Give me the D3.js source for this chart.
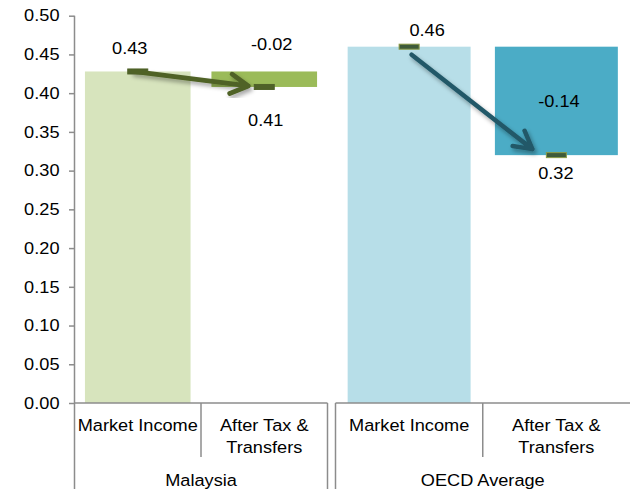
<!DOCTYPE html>
<html>
<head>
<meta charset="utf-8">
<script src="https://cdn.jsdelivr.net/npm/d3@7"></script>
<style>
  html, body { margin: 0; padding: 0; background: #fff; }
  svg { display: block; }
  text { font-family: "Liberation Sans", Arial, sans-serif; fill: #000; }
</style>
</head>
<body>
<svg id="chart" width="630" height="489"></svg>
<script>
// ---------- data ----------
const groups = ["Malaysia", "OECD Average"];
const categories = ["Market Income", "After Tax & Transfers"];
const categoryLabelLines = [["Market Income"], ["After Tax &", "Transfers"]];
const marketIncome = [0.428, 0.460];
const afterTaxTransfers = [0.408, 0.320];
const yTickValues = [0.00, 0.05, 0.10, 0.15, 0.20, 0.25, 0.30, 0.35, 0.40, 0.45, 0.50];

// ---------- styles ----------
const barColors = [
  { market: "#d7e4bd", after: "#9bbb59", arrow: "#4f6228", marker: "#4f6228", markerStroke: "#4f6228" },
  { market: "#b7dee8", after: "#4bacc6", arrow: "#215968", marker: "#3e5a3a", markerStroke: "#8a9a45" }
];
const axisColor = "#8c8c8c";
const fmt = v => d3.format(".2f")(v).replace("\u2212", "-");
const SX = 1.07;

const svg = d3.select("#chart");
const defs = svg.append("defs");
const f = defs.append("filter").attr("id", "shadow")
  .attr("x", "-20%").attr("y", "-20%").attr("width", "140%").attr("height", "140%");
f.append("feDropShadow").attr("dx", 2).attr("dy", 3).attr("stdDeviation", 2)
  .attr("flood-color", "#000").attr("flood-opacity", 0.35);

// ---------- scales ----------
const y = d3.scaleLinear().domain([0, 0.5]).range([403, 15.7]);
const groupRanges = [[74.5, 327.5], [335.5, 630]];
const xScales = groupRanges.map(r =>
  d3.scaleBand().domain(categories).range(r).paddingInner(0.165).paddingOuter(0.0825));

function txt(g, x, yy, s, anchor, size) {
  return g.append("text")
    .attr("transform", `translate(${x},${yy}) scale(${SX},1)`)
    .attr("text-anchor", anchor || "middle")
    .attr("dominant-baseline", "central")
    .style("font-size", (size || 17) + "px")
    .text(s);
}

// ---------- y axis ----------
const yAxisG = svg.append("g").attr("transform", "translate(74.5,0)");
yAxisG.call(d3.axisLeft(y).tickValues(yTickValues).tickFormat(() => "").tickSize(5.5).tickSizeOuter(0));
yAxisG.select(".domain").remove();
yAxisG.selectAll(".tick line").attr("stroke", axisColor).attr("stroke-width", 1.5);
yAxisG.append("line").attr("x1", 0).attr("x2", 0).attr("y1", y(0.5)).attr("y2", 489)
  .attr("stroke", axisColor).attr("stroke-width", 1.5);
yTickValues.forEach(v => txt(svg, 59.5, y(v), fmt(v), "end", 17));

// ---------- bars ----------
groups.forEach((gname, gi) => {
  const x = xScales[gi];
  const c = barColors[gi];
  const m = marketIncome[gi], a = afterTaxTransfers[gi];
  svg.append("rect")
    .attr("x", x(categories[0])).attr("width", x.bandwidth())
    .attr("y", y(m)).attr("height", y(0) - y(m))
    .attr("fill", c.market);
  svg.append("rect")
    .attr("x", x(categories[1])).attr("width", x.bandwidth())
    .attr("y", y(Math.max(m, a))).attr("height", Math.abs(y(a) - y(m)))
    .attr("fill", c.after);
});

// ---------- category axes ----------
const axG = svg.append("g").attr("stroke", axisColor).attr("stroke-width", 1.5).attr("fill", "none");
groups.forEach((gname, gi) => {
  const x = xScales[gi];
  const [r0, r1] = x.range();
  axG.append("line").attr("x1", r0).attr("x2", r1).attr("y1", y(0)).attr("y2", y(0));
  if (gi === 0) {
    axG.append("line").attr("x1", r1).attr("x2", r1).attr("y1", y(0)).attr("y2", 489);
  } else {
    axG.append("line").attr("x1", r0).attr("x2", r0).attr("y1", y(0)).attr("y2", 489);
  }
  const div = x(categories[1]) - x.step() * x.paddingInner() / 2;
  axG.append("line").attr("x1", div).attr("x2", div).attr("y1", y(0)).attr("y2", 457);

  categories.forEach((cat, ci) => {
    const cx = x(cat) + x.bandwidth() / 2;
    categoryLabelLines[ci].forEach((line, li) => txt(svg, cx, 425 + li * 22, line, "middle", 17));
  });
  txt(svg, (r0 + r1) / 2, 480, gname, "middle", 17);
});

// ---------- arrows, markers, labels ----------
const arrowLayout = [
  { s: [-5, 0], e: [-16, -1], w: 4.8 },
  { s: [2.5, 8], e: [-24, -6], w: 4.5 }
];
const labelLayout = [
  { market: [-8, -23], change: [7.5, -27], after: [1.5, 33] },
  { market: [18, -16], change: [2.5, null], after: [-0.5, 18] }
];
groups.forEach((gname, gi) => {
  const x = xScales[gi];
  const c = barColors[gi];
  const m = marketIncome[gi], a = afterTaxTransfers[gi];
  const c0 = x(categories[0]) + x.bandwidth() / 2;
  const c1 = x(categories[1]) + x.bandwidth() / 2;

  // markers
  [[c0, m], [c1, a]].forEach(([cx, v]) => {
    svg.append("rect").attr("x", cx - 10).attr("y", y(v) - 2.5)
      .attr("width", 20).attr("height", 5)
      .attr("fill", c.marker).attr("stroke", c.markerStroke).attr("stroke-width", 1);
  });

  // arrow
  const L = arrowLayout[gi];
  const sx = c0 + L.s[0], sy = y(m) + L.s[1];
  const ex = c1 + L.e[0], ey = y(a) + L.e[1];
  const ang = Math.atan2(ey - sy, ex - sx);
  const hl = 20, ha = 29 * Math.PI / 180;
  const p1 = [ex - hl * Math.cos(ang - ha), ey - hl * Math.sin(ang - ha)];
  const p2 = [ex - hl * Math.cos(ang + ha), ey - hl * Math.sin(ang + ha)];
  const path = d3.path();
  path.moveTo(sx, sy); path.lineTo(ex, ey);
  path.moveTo(p1[0], p1[1]); path.lineTo(ex, ey); path.lineTo(p2[0], p2[1]);
  svg.append("path").attr("d", path.toString())
    .attr("fill", "none").attr("stroke", c.arrow).attr("stroke-width", L.w)
    .attr("stroke-linecap", "round").attr("stroke-linejoin", "round")
    .attr("filter", "url(#shadow)");

  // labels
  const LL = labelLayout[gi];
  txt(svg, c0 + LL.market[0], y(m) + LL.market[1], fmt(m));
  const chY = LL.change[1] === null ? (y(m) + y(a)) / 2 : y(Math.max(m, a)) + LL.change[1];
  txt(svg, c1 + LL.change[0], chY, fmt(a - m));
  txt(svg, c1 + LL.after[0], y(a) + LL.after[1], fmt(a));
});
</script>
</body>
</html>
